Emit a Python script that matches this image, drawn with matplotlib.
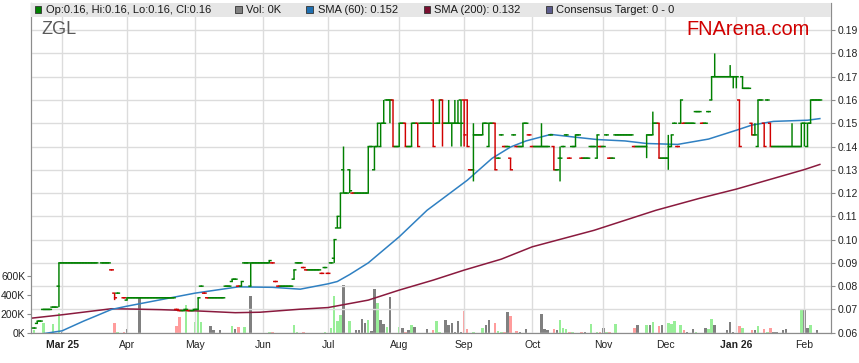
import numpy as np
import pandas as pd
import matplotlib
matplotlib.use("Agg")
import matplotlib.pyplot as plt
from matplotlib.collections import LineCollection
from matplotlib.patches import Rectangle

plt.rcParams['font.family'] = ['Liberation Sans', 'DejaVu Sans']

# ---- data ----
ticker = 'ZGL'
start_date = '2025-02-18'     # weekdays only, one bar per weekday
end_date = '2026-02-09'
nan = np.nan

closes = [
    .062, .065, .065, .070, .070, .070, .071, .071, .090, .090,      # 0
    .090, .090, .090, .090, .090, .090, .090, .090, .090, .090,      # 10
    .090, nan, .090, .090, .090, .087, .075, .077, nan, .075,        # 20
    .075, .075, .075, .075, .075, .075, .075, .075, .075, .075,      # 30
    .075, .075, .075, .075, .075, .075, .070, .0695, .0695, .070,    # 40
    .0695, .0695, .070, .075, .080, .077, .075, .075, .075, .075,    # 50
    .075, .075, .080, .080, .083, .083, .080, .082, .090, .090,      # 60
    .090, .090, .090, .090, .090, .090, .091, .090, .082, .080,      # 70
    .080, .080, .080, .080, .087, .090, .090, .088, .087, .087,      # 80
    .087, .087, .087, .0855, .088, .0855, .090, .100, .110, .120,    # 90
    .120, .120, .121, .120, .120, .120, .120, .120, .140, .140,      # 100
    .140, .150, .150, .150, .160, .160, .140, .140, .150, .150,      # 110
    .140, .140, .150, .150, .140, .150, .150, .150, .150, .140,      # 120
    .150, .160, .150, .150, .150, .150, .150, .150, .150, .145,      # 130
    .140, .130, .145, .145, .145, .150, .150, .150, .150, .130,      # 140
    .135, .145, .140, .140, .130, .145, .140, .140, .150, .150,      # 150
    .145, .140, .140, .140, .140, .140, .140, .145, .130, .130,      # 160
    .135, .140, .145, .135, .140, .145, .145, .135, .135, .135,      # 170
    .140, .140, .145, .140, .140, .145, .135, .135, .145, .145,      # 180
    .145, .145, .145, .145, .140, .140, .140, .140, .145, .145,      # 190
    .150, .150, .135, .135, .135, .140, .145, .150, .140, .160,      # 200
    .150, .150, .150, .150, .155, .155, .150, .150, .155, .170,      # 210
    .170, .170, .170, .170, .170, .170, .170, .170, .140, .165,      # 220
    .165, .165, .145, .145, .160, .160, .140, .160, .140, .140,      # 230
    .140, .140, .140, .140, .140, .140, .140, .140, .150, .150,      # 240
    .150, .160, .160, .160, .160,                                    # 250
]

# bars that traded over a range (all others open = high = low = close)
range_idx = [1, 8, 26, 30, 53, 64, 67, 70, 76, 84, 97, 98, 99, 100, 102,
             108, 110, 111, 112, 113, 115, 116, 118, 120, 122, 124, 129, 131,
             132, 134, 135, 136, 137, 138, 139, 140, 142, 145, 147, 149, 154,
             158, 164, 168, 170, 175, 182, 198, 200, 202, 205, 206, 209, 219,
             220, 225, 226, 227, 228, 229, 232, 233, 234, 236, 238, 245, 248,
             249, 250, 251]
range_open = [.064, .080, .077, .074, .070, .082, .080, .080, .090, .083,
              .092, .105, .105, .130, .130, .120, .130, .140, .140, .150,
              .160, .160, .140, .150, .140, .150, .160, .150, .160, .150,
              .150, .150, .150, .160, .160, .160, .130, .145, .140, .150,
              .135, .140, .140, .140, .135, .140, .135, .140, .145, .150,
              .135, .140, .150, .160, .170, .170, .170, .170, .160, .170,
              .150, .145, .140, .150, .150, .140, .140, .150, .140, .150]
range_high = [.065, .090, .077, .075, .075, .083, .082, .090, .091, .087,
              .100, .110, .120, .140, .130, .140, .140, .150, .150, .160,
              .160, .160, .150, .150, .150, .150, .160, .160, .160, .160,
              .150, .160, .160, .160, .160, .160, .150, .150, .150, .150,
              .135, .150, .150, .140, .140, .145, .145, .145, .155, .150,
              .145, .145, .160, .170, .180, .175, .170, .170, .160, .170,
              .150, .150, .160, .150, .150, .150, .150, .150, .150, .160]
range_low = [.064, .071, .074, .074, .070, .082, .080, .080, .090, .083,
             .090, .105, .105, .120, .120, .120, .130, .140, .140, .150,
             .150, .140, .140, .140, .140, .140, .140, .150, .140, .150,
             .140, .150, .150, .140, .140, .140, .125, .145, .140, .130,
             .130, .140, .140, .130, .125, .140, .135, .135, .145, .135,
             .130, .140, .150, .160, .170, .170, .165, .165, .140, .165,
             .145, .145, .140, .140, .140, .140, .140, .140, .140, .150]

volume_k = [
    28, 0, 0, 99, 0, 0, 92, 0, 204, 10,
    0, 0, 0, 0, 0, 0, 0, 0, 0, 0,
    0, 0, 0, 0, 0, 0, 106, 8, 0, 10,
    39, 0, 0, 0, 370, 0, 0, 0, 0, 0,
    0, 0, 0, 0, 0, 0, 74, 169, 0, 292,
    0, 0, 116, 240, 116, 0, 0, 70, 28, 0,
    28, 0, 0, 0, 70, 39, 60, 0, 60, 0,
    387, 0, 0, 0, 0, 0, 7, 8, 0, 0,
    0, 0, 0, 0, 81, 8, 0, 10, 0, 0,
    0, 0, 0, 0, 5, 0, 50, 387, 123, 183,
    500, 0, 123, 0, 25, 25, 141, 102, 130, 15,
    458, 313, 130, 88, 60, 377, 0, 0, 60, 53,
    10, 25, 85, 60, 0, 0, 0, 42, 0, 25,
    120, 10, 0, 137, 77, 106, 10, 120, 10, 225,
    35, 0, 10, 0, 0, 50, 77, 130, 0, 102,
    14, 10, 10, 218, 173, 0, 14, 10, 0, 35,
    0, 0, 0, 0, 200, 35, 25, 0, 35, 25,
    130, 53, 42, 10, 10, 0, 0, 10, 10, 0,
    95, 0, 10, 10, 53, 10, 10, 0, 95, 0,
    0, 0, 0, 0, 50, 77, 0, 0, 77, 77,
    109, 0, 67, 77, 0, 99, 88, 120, 0, 85,
    25, 10, 0, 35, 10, 0, 0, 46, 35, 141,
    77, 0, 0, 0, 25, 109, 10, 0, 67, 53,
    0, 0, 25, 25, 67, 0, 42, 10, 53, 10,
    10, 0, 25, 35, 0, 0, 0, 0, 236, 236,
    53, 85, 0, 25, 0,
]

# moving averages, sampled along the drawn lines (bar index, value)
sma60_idx = [-1.2, 1, 9, 16, 20, 25, 30, 52, 66, 77, 86, 95, 98, 102, 108,
             118, 127, 140, 148, 154, 159, 167, 175, 182, 191, 198, 208, 218,
             227, 232, 239, 250, 254]
sma60_val = [.0575, .0592, .0608, .0650, .0672, .0700, .0714, .0770, .0797,
             .0795, .0787, .0810, .0820, .0850, .0900, .1012, .1126, .1255,
             .1349, .1398, .1424, .1452, .1440, .1430, .1424, .1413, .1409,
             .1432, .1470, .1492, .1508, .1513, .1520]
sma200_idx = [-1.2, 9, 25, 30, 41, 52, 65, 73, 86, 95, 108, 118, 129, 139,
              151, 161, 181, 201, 215, 227, 249, 254]
sma200_val = [.0662, .0677, .0703, .0702, .0699, .0694, .0686, .0688, .0701,
              .0708, .0740, .0783, .0826, .0869, .0916, .0969, .1040, .1126,
              .1177, .1217, .1301, .1323]

legend_items = ['Op:0.16, Hi:0.16, Lo:0.16, Cl:0.16', 'Vol: 0K',
                'SMA (60): 0.152', 'SMA (200): 0.132', 'Consensus Target: 0 - 0']

# ---- prepare ----
dates = pd.bdate_range(start_date, end_date)
n = len(dates)
xs = np.arange(n)
c = np.array(closes, dtype=float)
o = c.copy(); h = c.copy(); l = c.copy()
o[range_idx] = range_open
h[range_idx] = range_high
l[range_idx] = range_low

prev = pd.Series(c).ffill().shift(1).to_numpy()
chg = np.sign(c - prev)
chg[0] = 1

GREEN, RED = '#008000', '#d00000'
VGREEN, VRED, VGRAY = '#98ee98', '#ff9c9c', '#808080'
BLUE, MAROON = '#2f80c2', '#8a1a3e'
GRID = '#dcdcdc'
SPINE = '#8c8c8c'

W, H = 859, 363
fig = plt.figure(figsize=(W / 100, H / 100), dpi=100)
left, right, top, bottom = 30.7, 831, 2.7, 332.7
ax = fig.add_axes([left / W, 1 - bottom / H, (right - left) / W, (bottom - top) / H])
axv = ax.twinx()
axv.set_zorder(ax.get_zorder() - 1)
axv.patch.set_visible(True)
axv.patch.set_facecolor('white')
ax.patch.set_visible(False)

# volume
vcol = [VGREEN if k > 0 else (VRED if k < 0 else VGRAY) for k in chg]
axv.bar(xs, volume_k, width=0.8, color=vcol, linewidth=0)
axv.set_ylim(0, 3490)
axv.set_yticks([0, 200, 400, 600])
axv.set_yticklabels(['0K', '200K', '400K', '600K'])
axv.yaxis.set_ticks_position('left')
axv.tick_params(axis='y', length=3, color=SPINE, labelsize=7.5, pad=1, labelcolor='#222222')

# price: moving averages
ax.plot(sma200_idx, sma200_val, color=MAROON, lw=1.1, zorder=2)
ax.plot(sma60_idx, sma60_val, color=BLUE, lw=1.1, zorder=2)

# price: OHLC bars (vertical range, open tick left, close tick right)
w = 0.55
vsegs, tsegs, vcols, tcols = [], [], [], []
for i in range(n):
    if np.isnan(c[i]):
        continue
    col = RED if chg[i] < 0 else GREEN
    if h[i] > l[i]:
        vsegs.append([(i, l[i]), (i, h[i])])
        vcols.append(col)
    tsegs += [[(i - w, o[i]), (i, o[i])], [(i, c[i]), (i + w, c[i])]]
    tcols += [col, col]
for segs, cols, cap in ((vsegs, vcols, 'butt'), (tsegs, tcols, 'projecting')):
    lc = LineCollection(segs, colors=cols, linewidths=1.05, zorder=3, capstyle=cap)
    lc.set_snap(False)
    ax.add_collection(lc)

ax.set_xlim(-1.13, 257.6)
ax.set_ylim(0.06, 0.2018)
ax.yaxis.tick_right()
ax.set_yticks(np.round(np.arange(0.06, 0.195, 0.01), 2))
ax.set_yticklabels(['%.2f' % v for v in np.arange(0.06, 0.195, 0.01)])
ax.tick_params(axis='y', length=3, color=SPINE, labelsize=7.5, pad=2, labelcolor='#222222')

months = dates.to_period('M')
first = np.r_[True, months[1:] != months[:-1]]
tick_idx = np.where(first)[0][1:]
labels = [dates[t].strftime('%b %y') if (k == 0 or dates[t].month == 1) else dates[t].strftime('%b')
          for k, t in enumerate(tick_idx)]
ax.set_xticks(tick_idx)
ax.set_xticklabels(labels)
ax.tick_params(axis='x', length=0, labelsize=7.5, pad=5, labelcolor='#222222')
for t in ax.get_xticklabels():
    if ' ' in t.get_text():
        t.set_fontweight('bold')

ax.grid(True, color=GRID, lw=1.0, zorder=0)
for a in (ax, axv):
    for s in ('left', 'right', 'bottom'):
        a.spines[s].set_color(SPINE)
    a.spines['top'].set_visible(False)

# legend band
band = 14 / (bottom - top)
ax.add_patch(Rectangle((0, 1 - band), 1, band, transform=ax.transAxes,
                       facecolor='#e6e6e6', edgecolor='none', zorder=10, clip_on=False))
sq_x = [34.5, 235, 306, 423.5, 545.5]
txt_x = [46.5, 246.5, 317.5, 433.5, 556]
sq_c = [GREEN, '#808080', '#1f6fb0', '#7a1030', '#5c5c8c']
for sx, tx, col, s in zip(sq_x, txt_x, sq_c, legend_items):
    fig.patches.append(Rectangle((sx / W, 1 - 13 / H), 6.5 / W, 6.5 / H, transform=fig.transFigure,
                                 facecolor=col, edgecolor='#333333', linewidth=0.6, zorder=11))
    fig.text(tx / W, 1 - 9.8 / H, s, fontsize=8, color='#1a1a1a', va='center', ha='left', zorder=12)

fig.text(41 / W, 1 - 21.5 / H, ticker, fontsize=13, color='#5a5a5a', va='top', ha='left')
fig.text(686.5 / W, 1 - 20.2 / H, 'FNArena.com', fontsize=14.4, color=RED, va='top', ha='left')

fig.savefig('out.png', dpi=100)
